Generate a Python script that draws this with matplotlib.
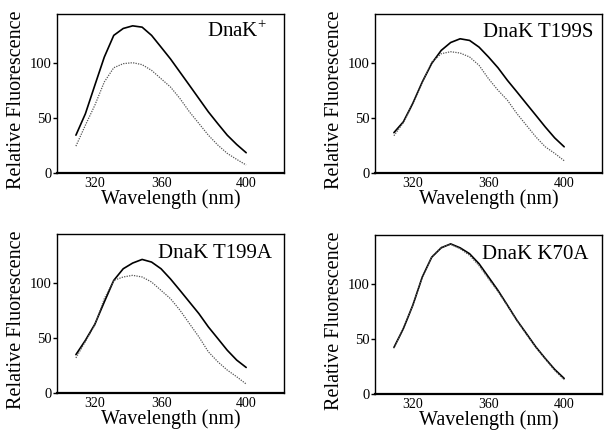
import matplotlib
matplotlib.use("Agg")
import matplotlib.pyplot as plt
import matplotlib.transforms as mtransforms

plt.rcParams['font.family'] = ['Liberation Serif', 'DejaVu Serif']
plt.rcParams['mathtext.fontset'] = 'custom'
plt.rcParams['mathtext.rm'] = 'Liberation Serif'

wavelength = [310, 315, 320, 325, 330, 335, 340, 345, 350, 355,
              360, 365, 370, 375, 380, 385, 390, 395, 400]

titles = [r"DnaK$^{+}$", "DnaK T199S", "DnaK T199A", "DnaK K70A"]

wt_solid = [34.5, 54, 80, 105.7, 125.5, 131.8, 134.2, 133, 125.5, 114.8,
            104, 92, 80, 67.9, 55.8, 45, 34.5, 26, 18.5]
wt_dotted = [24.5, 43.6, 61.8, 83, 96, 99.7, 100.6, 98.8, 93.6, 86,
             78.4, 67.9, 55.8, 45.2, 34.5, 25.5, 17.9, 12.4, 7.3]

t199s_solid = [36.8, 46.7, 63.6, 83, 100, 111.8, 119, 122.4, 120.9, 114.8,
               105.8, 96, 84.5, 74, 63.3, 52.7, 42, 32, 23.9]
t199s_dotted = [34, 46, 63, 83, 101, 108.8, 110.6, 109.4, 105.8, 98.2,
                86, 75.5, 66.4, 54.2, 43.6, 33, 23.9, 17.9, 11.2]

t199a_solid = [35, 48, 62.7, 83, 102.7, 113.3, 118.5, 121.8, 119.4, 113.3,
               104, 93.6, 83, 72.4, 60.3, 49.7, 39, 30, 23.3]
t199a_dotted = [32, 47, 62, 86, 102.7, 105.8, 107.3, 105.8, 101.2, 93.6,
                86, 75.5, 63.3, 51.2, 37.6, 28.5, 20.9, 14.8, 8.2]

k70a_solid = [42.4, 59.7, 81, 106.7, 124.8, 133.3, 136.9, 133.3, 127.9, 118.8,
              106.7, 94.5, 81, 67.3, 55.2, 43, 32.4, 22.4, 14.2]
k70a_dotted = [42.0, 59.5, 81, 106.5, 125.2, 133.8, 136.5, 132.5, 126.5, 117,
               105, 93.5, 80.5, 67, 54.5, 42.5, 32, 21.5, 13]

solid_series = [wt_solid, t199s_solid, t199a_solid, k70a_solid]
dotted_series = [wt_dotted, t199s_dotted, t199a_dotted, k70a_dotted]

xticks = [320, 360, 400]
yticks = [0, 50, 100]

W, H = 609, 437
fig = plt.figure(figsize=(W / 100, H / 100), dpi=100)

# axes boxes in pixels: (left, top, right, bottom)
boxes = [(57, 14, 284, 173), (375, 14, 602, 173),
         (57, 234, 284, 393), (375, 235, 602, 394)]
title_offsets = [(17, 23), (9, 23), (12, 24), (14, 24)]

for i in range(4):
    l, t, r, b = boxes[i]
    ax = fig.add_axes([l / W, (H - b) / H, (r - l) / W, (b - t) / H])
    ax.plot(wavelength, solid_series[i], color='black', lw=1.2,
            solid_capstyle='round', solid_joinstyle='round')
    ax.plot(wavelength, dotted_series[i], color='#555555', lw=0.9,
            linestyle=(0, (1, 1)))
    ax.set_xlim(300, 420)
    ax.set_ylim(0, 145)
    ax.set_xticks(xticks)
    ax.set_yticks(yticks)
    ax.tick_params(axis='x', length=0, pad=3, labelsize=10)
    ax.tick_params(axis='y', length=3, width=1, pad=1, labelsize=10.5,
                   direction='out')
    for s in ax.spines.values():
        s.set_linewidth(1.0)
    ax.spines['bottom'].set_linewidth(1.6)
    ax.set_xlabel("Wavelength (nm)", fontsize=14.5)
    ax.set_ylabel("Relative Fluorescence", fontsize=14.5)
    ax.xaxis.set_label_coords(0.5, -0.105)
    ax.yaxis.set_label_coords(-0.135, 0.46)
    dx, dy = title_offsets[i]
    ax.annotate(titles[i], xy=(1, 1), xycoords='axes fraction',
                xytext=(-dx, -dy), textcoords='offset pixels',
                ha='right', va='baseline', fontsize=15)
    if i in (0, 2):
        # the middle wavelength label sits a little left in the left column
        lab = ax.xaxis.get_major_ticks()[1].label1
        lab.set_transform(lab.get_transform() +
                          mtransforms.ScaledTranslation(-9 / 100, 0,
                                                        fig.dpi_scale_trans))

fig.savefig("out.png", dpi=100)
